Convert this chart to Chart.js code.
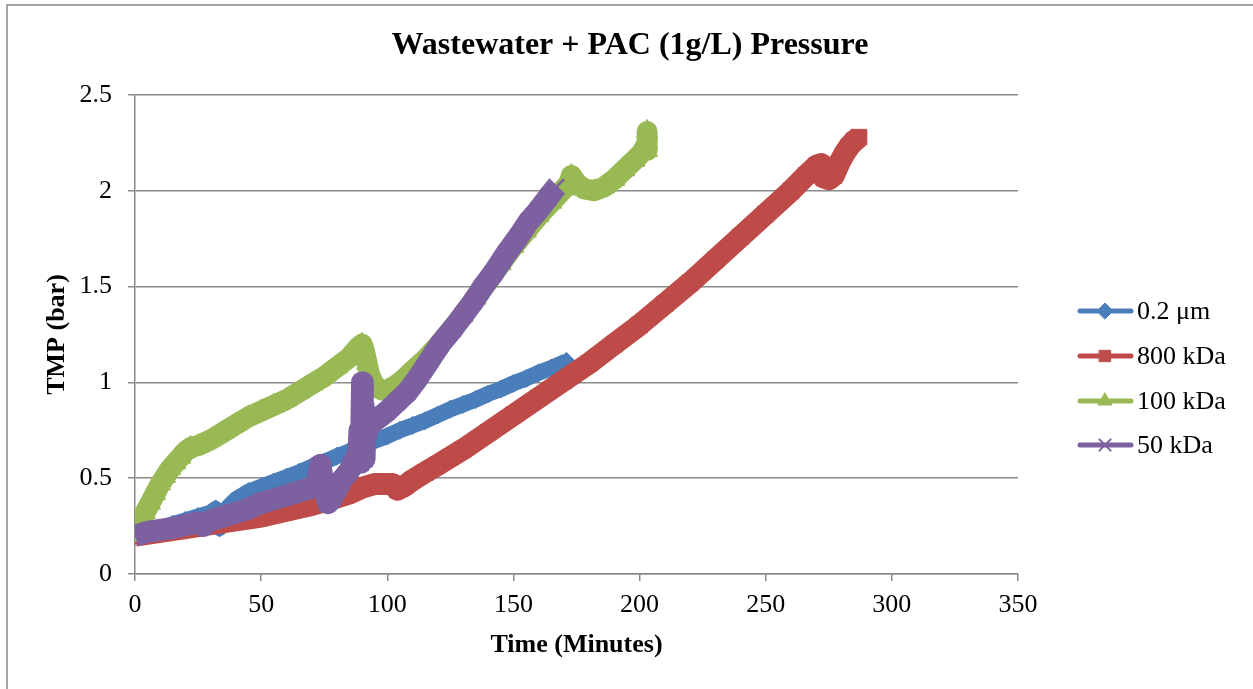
<!DOCTYPE html>
<html>
<head>
<meta charset="utf-8">
<script src="https://cdn.jsdelivr.net/npm/chart.js@4.4.0/dist/chart.umd.min.js"></script>
<style>
  body { margin: 0; background: #fff; }
  #wrap { position: absolute; left: 0; top: 0; width: 1253px; height: 689px; }
</style>
</head>
<body>
<div id="wrap"><canvas id="myChart" width="1253" height="689"></canvas></div>
<script>
var seriesNames = ["0.2 \u03bcm", "800 kDa", "100 kDa", "50 kDa"];

var time02 = [0, 5, 10, 15, 20, 25, 30, 32, 33.5, 35, 37, 40, 45, 50, 55, 60, 65, 70, 75, 80, 85, 90, 95, 100, 105, 110, 115, 120, 125, 130, 135, 140, 145, 150, 155, 160, 165, 171];
var tmp02 = [0.2, 0.22, 0.24, 0.26, 0.28, 0.3, 0.32, 0.34, 0.24, 0.29, 0.35, 0.39, 0.43, 0.455, 0.48, 0.505, 0.53, 0.56, 0.585, 0.615, 0.64, 0.67, 0.695, 0.72, 0.75, 0.775, 0.8, 0.83, 0.86, 0.885, 0.91, 0.94, 0.965, 0.995, 1.02, 1.05, 1.075, 1.11];

var time800 = [0, 10, 20, 30, 40, 50, 60, 70, 80, 85, 90, 95, 100, 102, 104, 107, 110, 115, 120, 125, 130, 140, 150, 160, 170, 180, 190, 200, 210, 220, 230, 240, 250, 260, 266, 270, 272, 273, 275, 277, 279, 281, 283, 285, 287];
var tmp800 = [0.2, 0.22, 0.24, 0.26, 0.28, 0.3, 0.33, 0.36, 0.4, 0.42, 0.45, 0.47, 0.47, 0.47, 0.44, 0.46, 0.49, 0.53, 0.57, 0.61, 0.65, 0.74, 0.83, 0.92, 1.01, 1.1, 1.2, 1.3, 1.41, 1.52, 1.64, 1.76, 1.88, 2.0, 2.08, 2.13, 2.14, 2.07, 2.06, 2.08, 2.14, 2.19, 2.23, 2.26, 2.28];

var time100 = [0, 2, 4, 6, 8, 10, 12, 14, 16, 18, 20, 22, 25, 30, 35, 40, 45, 50, 55, 60, 65, 70, 75, 80, 85, 89, 90, 91, 92, 93, 95, 98, 100, 103, 106, 110, 115, 120, 125, 130, 135, 140, 145, 150, 155, 160, 165, 170, 172, 173, 175, 178, 182, 186, 190, 194, 198, 201, 203, 203, 203];
var tmp100 = [0.2, 0.26, 0.32, 0.37, 0.42, 0.47, 0.51, 0.55, 0.58, 0.61, 0.64, 0.66, 0.67, 0.7, 0.74, 0.78, 0.82, 0.85, 0.88, 0.91, 0.95, 0.99, 1.03, 1.08, 1.13, 1.19, 1.2, 1.16, 1.1, 1.04, 0.98, 0.96, 0.96, 0.98, 1.01, 1.06, 1.12, 1.19, 1.27, 1.35, 1.44, 1.53, 1.62, 1.71, 1.79, 1.87, 1.94, 2.01, 2.04, 2.08, 2.04, 2.01, 2.0, 2.02, 2.06, 2.11, 2.16, 2.2, 2.25, 2.31, 2.21];

var time50 = [0, 5, 10, 15, 20, 25, 27, 30, 35, 40, 45, 50, 55, 60, 65, 70, 72, 73.5, 75, 76.5, 78, 80, 82, 85, 87, 88.5, 89, 89.5, 90, 90.3, 90.6, 91, 91.3, 91.6, 92, 94, 97, 100, 104, 108, 112, 116, 121, 126, 130, 134, 138, 142, 147, 152, 156, 160, 164, 167];
var tmp50 = [0.2, 0.22, 0.23, 0.24, 0.255, 0.27, 0.25, 0.28, 0.3, 0.32, 0.34, 0.37, 0.39, 0.41, 0.43, 0.45, 0.47, 0.57, 0.44, 0.37, 0.39, 0.44, 0.49, 0.54, 0.59, 0.63, 0.75, 0.58, 1.0, 0.65, 0.88, 0.6, 0.83, 0.72, 0.78, 0.79, 0.82, 0.85, 0.9, 0.95, 1.02, 1.1, 1.2, 1.28, 1.35, 1.42, 1.5, 1.57, 1.67, 1.76, 1.84, 1.9, 1.97, 2.02];

var xTicks = [0, 50, 100, 150, 200, 250, 300, 350];
var yTicks = [0, 0.5, 1, 1.5, 2, 2.5];

var colors = ['#4A7EBB', '#BE4B48', '#98B954', '#7D60A0'];
var markers = ['rectRot', 'rect', 'triangle', 'crossRot'];
var lineWidths = [16, 22, 21, 22];
var markerSizes = [9, 11, 12, 11];

function pts(xs, ys) {
  var out = [];
  for (var i = 0; i < xs.length; i++) out.push({x: xs[i], y: ys[i]});
  return out;
}

var serif = '"Liberation Serif", "Times New Roman", serif';

function makeSet(i, xs, ys) {
  return {
    label: seriesNames[i],
    data: pts(xs, ys),
    showLine: true,
    order: 3 - i,
    borderColor: colors[i],
    backgroundColor: colors[i],
    borderWidth: lineWidths[i],
    borderJoinStyle: 'round',
    pointStyle: markers[i],
    pointRadius: markerSizes[i],
    pointBorderWidth: i == 3 ? 2.5 : 1,
    pointBorderColor: colors[i],
    pointBackgroundColor: colors[i],
    pointHoverRadius: markerSizes[i],
    tension: 0
  };
}

var framePlugin = {
  id: 'frame',
  beforeDraw: function(chart) {
    var ctx = chart.ctx;
    ctx.save();
    ctx.strokeStyle = '#868686';
    ctx.lineWidth = 1.5;
    ctx.beginPath();
    ctx.moveTo(7, 689);
    ctx.lineTo(7, 5);
    ctx.lineTo(1253, 5);
    ctx.stroke();
    ctx.restore();
  },
  afterDraw: function(chart) {
    var ctx = chart.ctx;
    ctx.save();
    // title
    ctx.fillStyle = '#000';
    ctx.font = 'bold 32px ' + serif;
    ctx.textAlign = 'center';
    ctx.textBaseline = 'middle';
    ctx.fillText('Wastewater + PAC (1g/L) Pressure', 630, 46);
    // legend
    var rows = [311, 356, 401, 445];
    ctx.font = '26px ' + serif;
    ctx.textAlign = 'left';
    for (var i = 0; i < seriesNames.length; i++) {
      var y = rows[i];
      ctx.strokeStyle = colors[i];
      ctx.fillStyle = colors[i];
      ctx.lineWidth = 5;
      ctx.lineCap = 'round';
      ctx.beginPath();
      ctx.moveTo(1080, y);
      ctx.lineTo(1131, y);
      ctx.stroke();
      ctx.lineWidth = i == 3 ? 2 : 1;
      Chart.helpers.drawPoint(ctx, {pointStyle: markers[i], radius: 8, rotation: 0, borderWidth: ctx.lineWidth}, 1105, y);
      ctx.fillStyle = '#000';
      ctx.fillText(seriesNames[i], 1137, y + 1);
    }
    ctx.restore();
  }
};

var ctx = document.getElementById('myChart').getContext('2d');
var chart = new Chart(ctx, {
  type: 'scatter',
  data: {
    datasets: [
      makeSet(0, time02, tmp02),
      makeSet(1, time800, tmp800),
      makeSet(2, time100, tmp100),
      makeSet(3, time50, tmp50)
    ]
  },
  options: {
    responsive: false,
    animation: false,
    layout: { padding: { left: 0, right: 235, top: 95, bottom: 0 } },
    plugins: {
      legend: { display: false },
      title: { display: false },
      tooltip: { enabled: false }
    },
    scales: {
      x: {
        type: 'linear',
        min: 0,
        max: 350,
        afterFit: function(s) { s.height = 115; },
        afterBuildTicks: function(s) { s.ticks = xTicks.map(function(v) { return {value: v}; }); },
        grid: { drawOnChartArea: false, drawTicks: true, tickLength: 7, color: '#8a8a8a', lineWidth: 1.5 },
        border: { color: '#8a8a8a', width: 1.5 },
        ticks: { color: '#000', font: { family: serif, size: 26 }, padding: 9, maxRotation: 0 },
        title: { display: true, text: 'Time (Minutes)', color: '#000', font: { family: serif, size: 26, weight: 'bold' }, padding: { top: 0, bottom: 28 } }
      },
      y: {
        type: 'linear',
        min: 0,
        max: 2.5,
        afterFit: function(s) { s.width = 135; },
        afterBuildTicks: function(s) { s.ticks = yTicks.map(function(v) { return {value: v}; }); },
        grid: { color: '#8a8a8a', lineWidth: 1.5, tickLength: 7 },
        border: { color: '#8a8a8a', width: 1.5 },
        ticks: { color: '#000', font: { family: serif, size: 26 }, padding: 16, callback: function(v) { return String(v); } },
        title: { display: true, text: 'TMP (bar)', color: '#000', font: { family: serif, size: 26, weight: 'bold' }, padding: { top: 42, bottom: 0 } }
      }
    }
  },
  plugins: [framePlugin]
});
</script>
</body>
</html>
